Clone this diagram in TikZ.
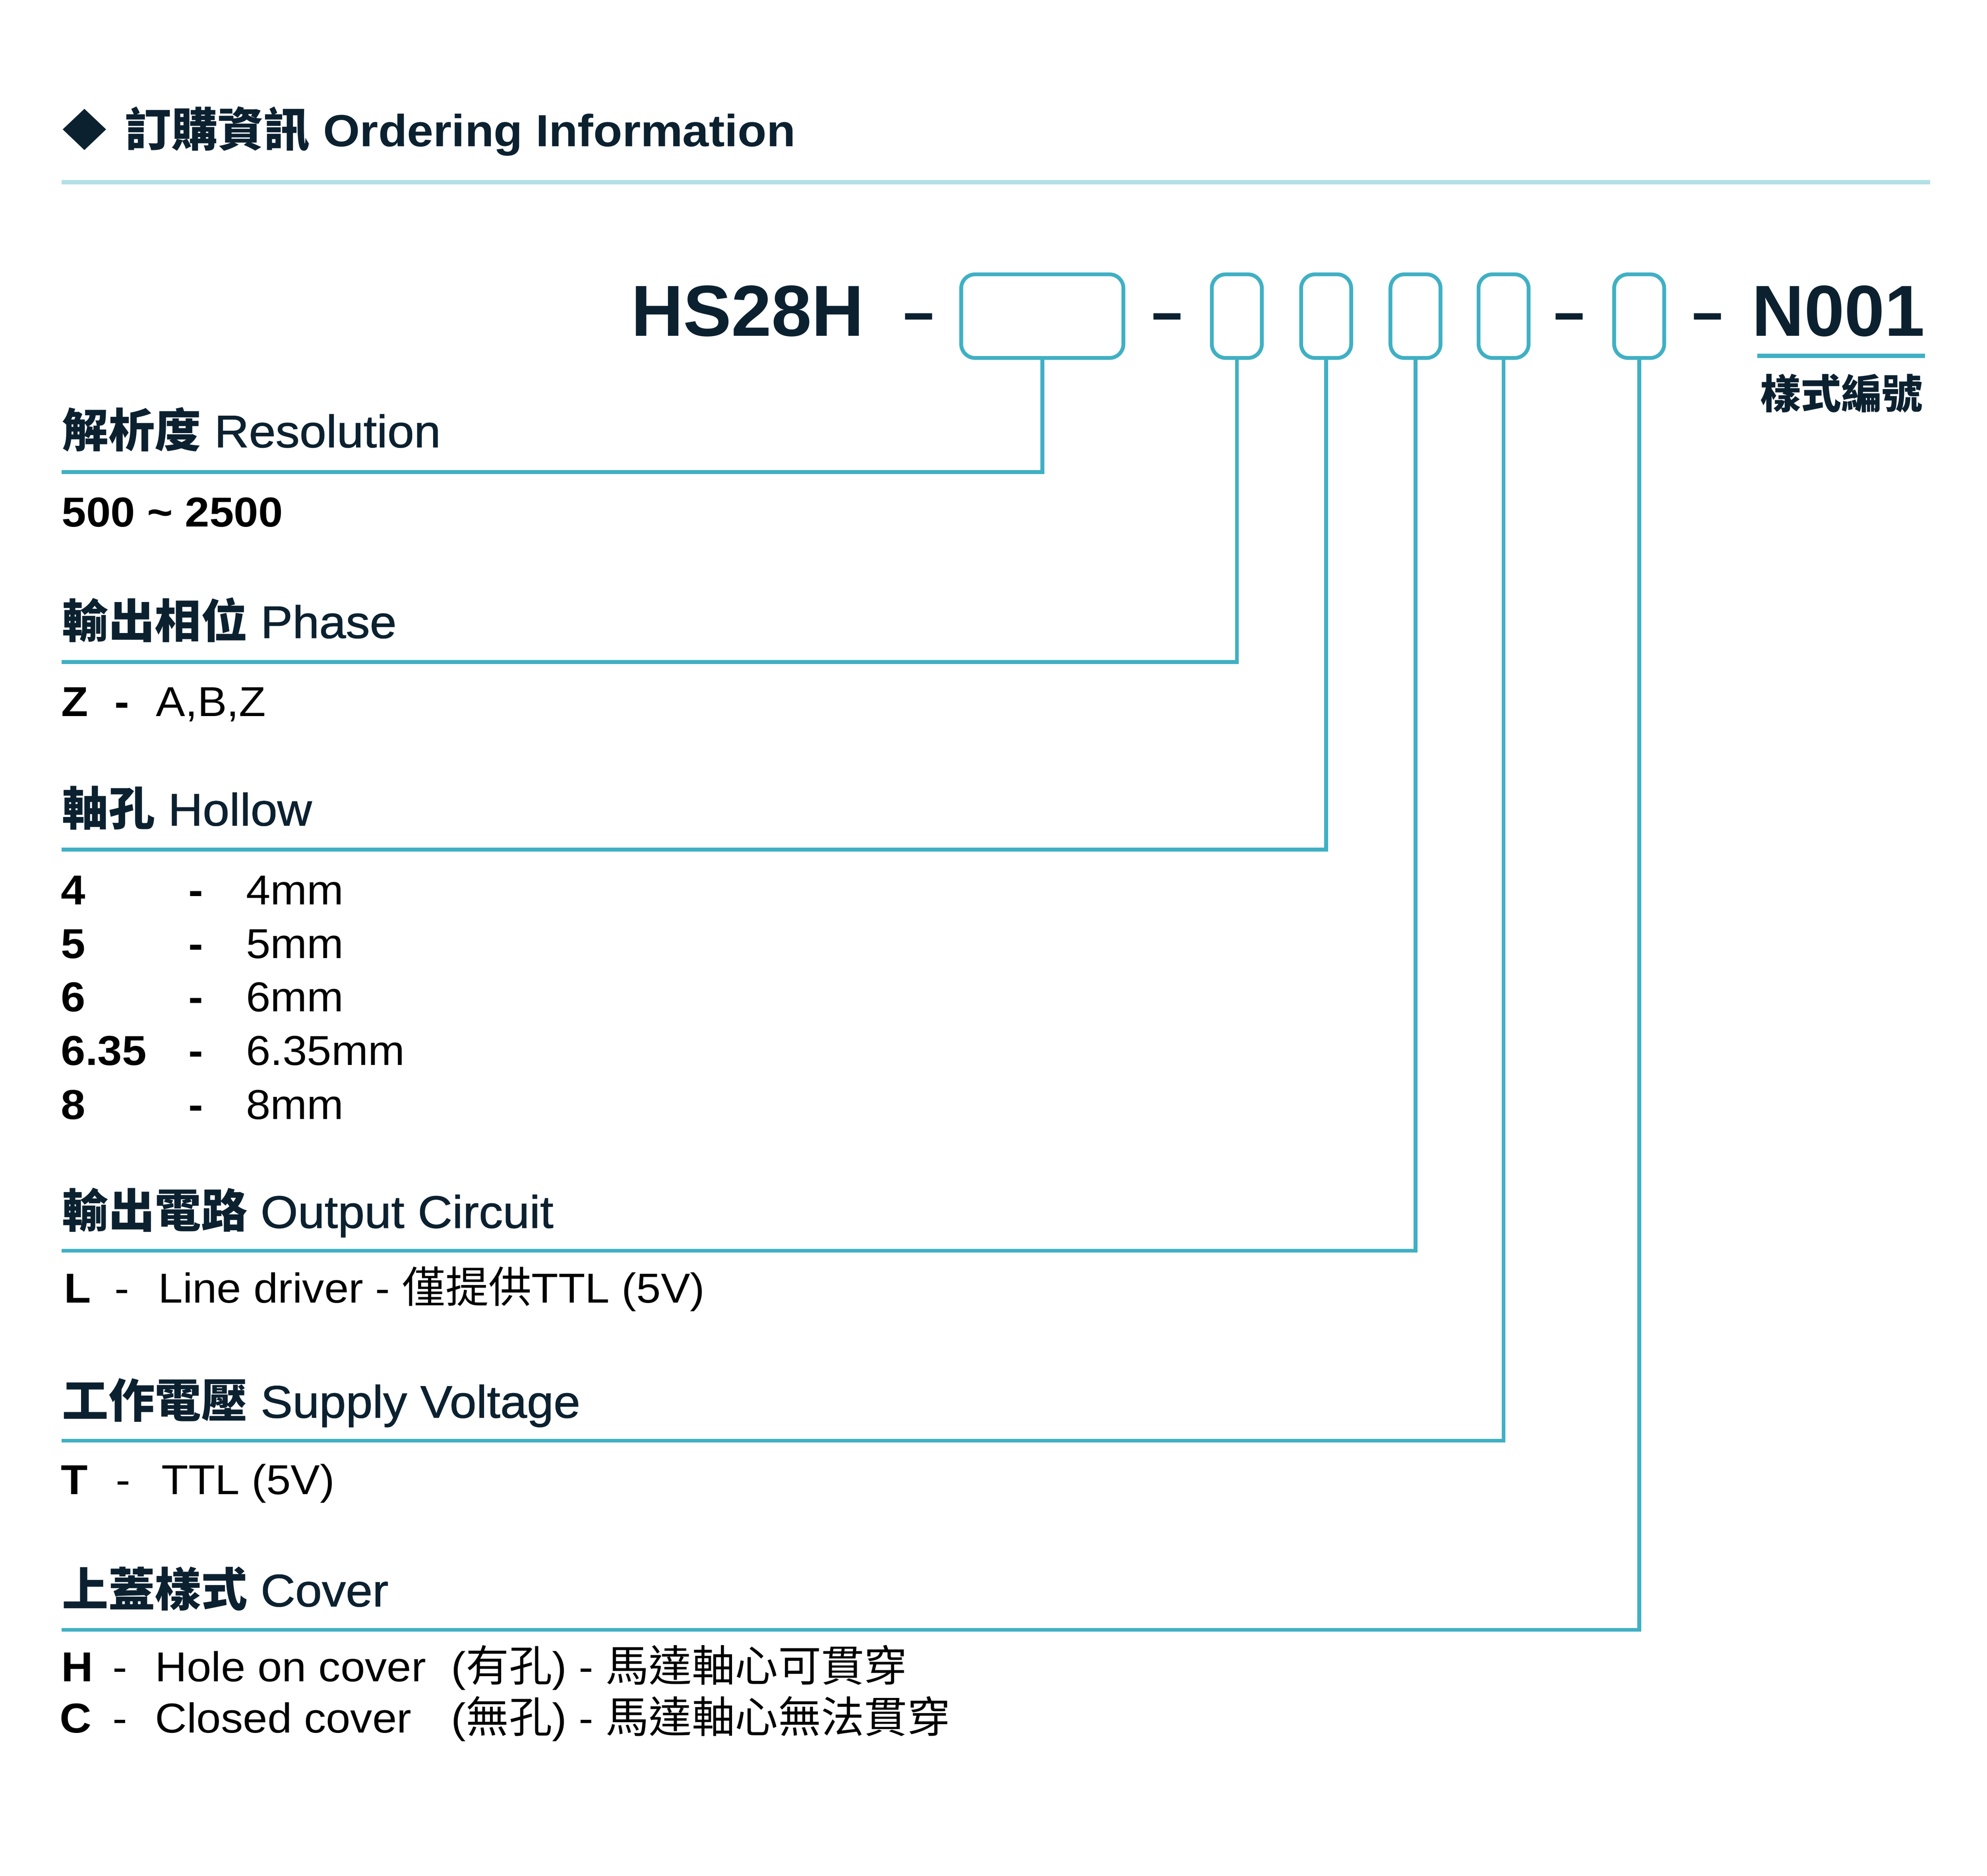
\documentclass[tikz,border=0pt]{standalone}
\usepackage{fontspec}
\setmainfont{Liberation Sans}[FakeStretch=1.05]
\newfontfamily\headfont{Liberation Sans}[FakeStretch=1.05,FakeBold=1]
\newfontfamily\partfont{Liberation Sans}
\newfontfamily\dashfont{Liberation Sans}[FakeStretch=2]
\newfontfamily\cjk{Noto Sans CJK TC}
\definecolor{navy}{RGB}{12,33,48}
\definecolor{lineteal}{RGB}{64,176,196}
\definecolor{ruleteal}{RGB}{178,224,229}
\newcommand{\zh}[1]{{\cjk\fontsize{34}{38}\selectfont #1}}
\newcommand{\zhb}[1]{{\cjk\bfseries\fontsize{36.5}{40}\selectfont #1}}
\begin{document}
\begin{tikzpicture}[x=1pt, y=-1pt,
    headtext/.style={anchor=base west, inner sep=0pt, text=navy, font=\headfont\fontsize{36}{40}\selectfont},
    codetext/.style={anchor=base west, inner sep=0pt, font=\bfseries\fontsize{33}{38}\selectfont},
    bodytext/.style={anchor=base west, inner sep=0pt, font=\fontsize{33}{38}\selectfont},
    partno/.style={anchor=base west, inner sep=0pt, text=navy, font=\partfont\bfseries\fontsize{57}{60}\selectfont},
    partdash/.style={anchor=base, inner sep=0pt, text=navy, font=\dashfont\bfseries\fontsize{42}{44}\selectfont},
    slot/.style={draw=lineteal, line width=3pt, rounded corners=11pt, minimum width=39.5pt, minimum height=66pt, inner sep=0pt, outer sep=0pt},
    link/.style={draw=lineteal, line width=3pt}]

    % Page size
    \useasboundingbox (0,0) rectangle (1568,1480.5);

    % Title with diamond bullet and light rule
    \fill[navy] (66.6,85.9) -- (83.7,102.1) -- (66.6,118.4) -- (49.5,102.1) -- cycle;
    \node[headtext, font=\bfseries\fontsize{35.5}{40}\selectfont] (title) at (98.5,115.5) {\zhb{訂購資訊} Ordering Information};
    \draw[ruleteal, line width=3.4pt] (48.6,143.7) -- (1523,143.7);

    % Part number with the option slots
    \node[partno] (model) at (497.8,265) {HS28H};
    \node[partdash] (d1) at (725,260.6) {-};
    \node[slot, minimum width=128pt] (res) at (822.5,249.5) {};
    \node[partdash] (d2) at (921,260.6) {-};
    \node[slot] (pha) at (976,249.5) {};
    \node[slot] (hol) at (1046.5,249.5) {};
    \node[slot] (out) at (1117,249.5) {};
    \node[slot] (sup) at (1186.5,249.5) {};
    \node[partdash] (d3) at (1238.5,260.6) {-};
    \node[slot] (cov) at (1293.5,249.5) {};
    \node[partdash] (d4) at (1347.5,260.6) {-};
    \node[partno] (ver) at (1382.4,265) {N001};
    \draw[lineteal, line width=3.5pt] (1386.6,280.7) -- (1519,280.7);
    \node[inner sep=0pt, text=navy] (verlbl) at (1453,310.5) {{\cjk\bfseries\fontsize{32}{36}\selectfont 樣式編號}};

    % Free ends of the leader lines
    \coordinate (resend) at (48.6,372.5);
    \coordinate (phaend) at (48.6,522.5);
    \coordinate (holend) at (48.6,670.5);
    \coordinate (outend) at (48.6,987);
    \coordinate (supend) at (48.6,1137);
    \coordinate (covend) at (48.6,1286.2);

    % Leader lines from each slot
    \draw[link] (res.south) |- (resend);
    \draw[link] (pha.south) |- (phaend);
    \draw[link] (hol.south) |- (holend);
    \draw[link] (out.south) |- (outend);
    \draw[link] (sup.south) |- (supend);
    \draw[link] (cov.south) |- (covend);

    % Resolution
    \node[headtext] (reshead) at (49,353) {\zhb{解析度} Resolution};
    \node[codetext] (resval) at (48.6,415.8) {500 \textasciitilde{} 2500};

    % Phase
    \node[headtext] (phahead) at (49,503.5) {\zhb{輸出相位} Phase};
    \node[codetext] (phacode) at (48.3,565.4) {Z};
    \node[codetext] (phadash) at (90.3,565.4) {-};
    \node[bodytext] (phaval) at (123,565.4) {A,B,Z};

    % Hollow
    \node[headtext] (holhead) at (49,651.5) {\zhb{軸孔} Hollow};
    \node[codetext] (holcodea) at (48,714) {4};
    \node[codetext] (holdasha) at (148.5,714) {-};
    \node[bodytext] (holvala) at (194,714) {4mm};
    \node[codetext] (holcodeb) at (48,756.2) {5};
    \node[codetext] (holdashb) at (148.5,756.2) {-};
    \node[bodytext] (holvalb) at (194,756.2) {5mm};
    \node[codetext] (holcodec) at (48,798.4) {6};
    \node[codetext] (holdashc) at (148.5,798.4) {-};
    \node[bodytext] (holvalc) at (194,798.4) {6mm};
    \node[codetext] (holcoded) at (48,840.7) {6.35};
    \node[codetext] (holdashd) at (148.5,840.7) {-};
    \node[bodytext] (holvald) at (194,840.7) {6.35mm};
    \node[codetext] (holcodee) at (48,883.1) {8};
    \node[codetext] (holdashe) at (148.5,883.1) {-};
    \node[bodytext] (holvale) at (194,883.1) {8mm};

    % Output circuit
    \node[headtext] (outhead) at (49,969) {\zhb{輸出電路} Output Circuit};
    \node[codetext] (outcode) at (50.5,1028) {L};
    \node[bodytext] (outdash) at (90.2,1028) {-};
    \node[bodytext] (outval) at (124.8,1028) {Line driver - \zh{僅提供}TTL (5V)};

    % Supply voltage
    \node[headtext] (suphead) at (49,1118.8) {\zhb{工作電壓} Supply Voltage};
    \node[codetext] (supcode) at (48,1179.3) {T};
    \node[bodytext] (supdash) at (91.1,1179.3) {-};
    \node[bodytext] (supval) at (127.3,1179.3) {TTL (5V)};

    % Cover
    \node[headtext] (covhead) at (49,1267.7) {\zhb{上蓋樣式} Cover};
    \node[codetext] (covcodea) at (48.2,1327) {H};
    \node[bodytext] (covdasha) at (88.7,1327) {-};
    \node[bodytext] (covvala) at (122.3,1327) {Hole on cover};
    \node[bodytext] (covnotea) at (356,1327) {(\zh{有孔}) - \zh{馬達軸心可貫穿}};
    \node[codetext] (covcodeb) at (47,1367.3) {C};
    \node[bodytext] (covdashb) at (88.7,1367.3) {-};
    \node[bodytext] (covvalb) at (122.3,1367.3) {Closed cover};
    \node[bodytext] (covnoteb) at (356,1367.3) {(\zh{無孔}) - \zh{馬達軸心無法貫穿}};
\end{tikzpicture}
\end{document}
